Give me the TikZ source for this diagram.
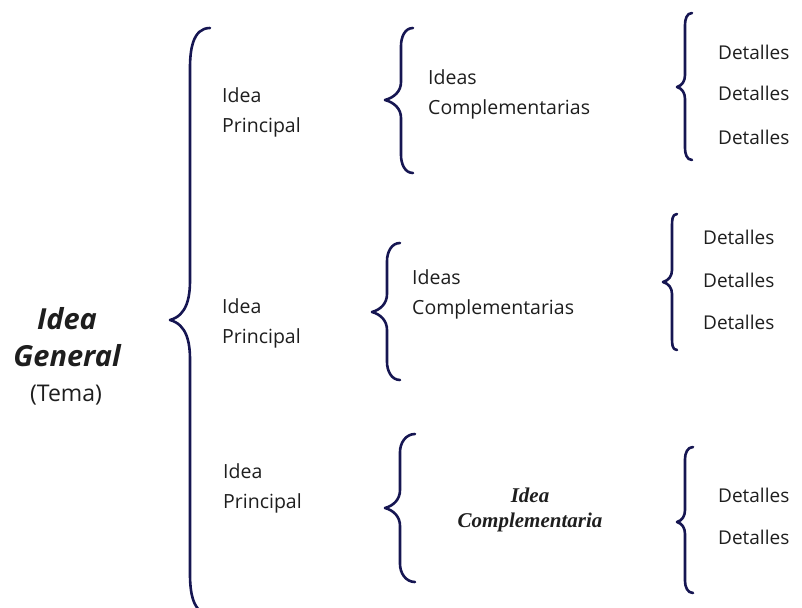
\documentclass[tikz,border=0pt]{standalone}
\usepackage{fontspec}
\setmainfont{Open Sans}
\newfontfamily\romana{Liberation Serif}
\definecolor{tinta}{RGB}{22,22,82}
\definecolor{texto}{RGB}{30,30,30}
\begin{document}
\begin{tikzpicture}
[x=1pt,y=-1pt,
  llavedecorate/.style={draw=tinta,line width=2.6pt,line cap=round,line join=round},%
  textodecorate/.style={text=texto,inner sep=0pt,align=left,anchor=west,
    font=\fontsize{19.5}{30}\selectfont},
  detalledecorate/.style={textodecorate,font=\fontsize{19}{24}\selectfont}]
\useasboundingbox (0,0) rectangle (802,607);
%% braces: x of the stem, top, tip, bottom, tip depth, curl width, curl radius
\foreach \x/\top/\tip/\bot/\d/\w/\r in {
  %% main brace
  190/28/320/614/20/20/40,
  %% middle braces
  401/28/100/173/16/12/18, 387/243/312/380/15/13/18, 400/434/508/582/15/15/18,
  %% right braces
  685/13/87/160/8/7/12, 672/214/282/350/9/5/12, 685/447/522/593/8/8/12}
{
  \draw[llavedecorate] (\x+\w,\top) to[out=180,in=90] (\x,\top+\r)
    -- (\x,\tip-\r) to[out=-90,in=15] (\x-\d,\tip)
    to[out=-15,in=90] (\x,\tip+\r) -- (\x,\bot-\r)
    to[out=-90,in=180] (\x+\w,\bot);
}
%% general idea
\node (general) at (67,337) [text=texto,inner sep=0pt,align=center,
  font=\fontsize{29}{37}\selectfont\bfseries\itshape] {Idea\\General};
\node (tema) at (66,395) [text=texto,inner sep=0pt,
  font=\fontsize{23}{26}\selectfont] {(Tema)};
%% main ideas
\foreach \nodename/\x/\y in {principal1/222/112, principal2/222/323, principal3/223/488}
{
  \node (\nodename) at (\x,\y) [textodecorate] {Idea\\Principal};
}
%% complementary ideas
\foreach \nodename/\x/\y in {complementaria1/428/94, complementaria2/412/294}
{
  \node (\nodename) at (\x,\y) [textodecorate] {Ideas\\Complementarias};
}
\node (complementaria3) at (530,510) [text=texto,inner sep=0pt,align=center,
  font=\romana\fontsize{21}{25}\selectfont\bfseries\itshape] {Idea\\Complementaria};
%% details
\foreach \nodename/\x/\y in {
  detalle11/718/52, detalle12/718/93, detalle13/718/137,
  detalle21/703/237, detalle22/703/280, detalle23/703/322,
  detalle31/718/495, detalle32/718/537}
{
  \node (\nodename) at (\x,\y) [detalledecorate] {Detalles};
}
\end{tikzpicture}
\end{document}
